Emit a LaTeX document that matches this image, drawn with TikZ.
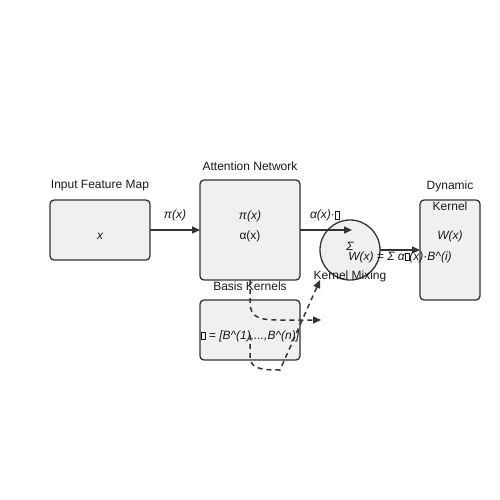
\documentclass[tikz,border=0pt]{standalone}
\usepackage{fontspec}
\setmainfont{Liberation Sans}
\usetikzlibrary{arrows.meta}
\newcommand{\tofu}{{\setlength{\fboxsep}{0pt}\setlength{\fboxrule}{0.4pt}\fbox{\rule{0pt}{7pt}\hspace{4pt}}}}
\begin{document}
\begin{tikzpicture}[x=1pt,y=-1pt,
  box/.style={draw=black!80,fill=black!6,line width=1.3pt,rounded corners=4pt},
  lbl/.style={font=\fontsize{12}{14}\selectfont,text=black!90,inner sep=0pt},
  conn/.style={draw=black!80,line width=1.5pt,-{Triangle[length=8pt,width=7pt]}},
  dconn/.style={conn,dashed,dash pattern=on 5pt off 4pt}]
\useasboundingbox (0,0) rectangle (500,500);
\draw[box] (50,200) rectangle (150,260);
\coordinate (inW) at (150,230);
\draw[box] (200,180) rectangle (300,280);
\coordinate (attW) at (200,230);
\coordinate (attE) at (300,230);
\coordinate (attS) at (250,280);
\draw[box] (420,200) rectangle (480,300);
\coordinate (dynW) at (420,250);
\draw[box] (200,300) rectangle (300,360);
\coordinate (basC) at (250,335);
\draw[box] (350,250) circle (30);
\coordinate (mixIn) at (352,230);
\coordinate (mixE) at (380,250);
\coordinate (mixS) at (321,320);
\coordinate (mixT) at (320,280);

\node[lbl] (inL) at (100,186) {Input Feature Map};
\node[lbl] (inT) at (100,236) {\itshape x};
\node[lbl] (attL) at (250,166) {Attention Network};
\node[lbl] (attT1) at (250,216) {\itshape π(x)};
\node[lbl] (attT2) at (250,236) {α(x)};
\node[lbl] (dynL1) at (450,186) {Dynamic};
\node[lbl] (dynL2) at (450,206) {Kernel};
\node[lbl] (dynT) at (450,236) {\itshape W(x)};
\node[lbl] (basL) at (250,286) {Basis Kernels};
\node[lbl] (basT) at (250,336) {\itshape \tofu\ = [B\^{}(1),...,B\^{}(n)]};
\node[lbl] (sig) at (350,246) {\itshape Σ};
\node[lbl] (mixL) at (350,276) {Kernel Mixing};

\draw[conn] (inW) -- (attW) node[lbl,midway,above=8pt] (e1) {\itshape π(x)};
\draw[conn] (attE) -- (mixIn) node[lbl,pos=0.48,above=8pt] (e2) {\itshape α(x)·\tofu};
\draw[conn] (mixE) -- (dynW) node[lbl,midway,below=1pt] (e3) {\itshape W(x) = Σ α\tofu(x)·B\^{}(i)};
\draw[dconn] (attS) -- (250,302) .. controls (250,318) and (260,320) .. (280,320) -- (mixS);
\draw[dconn] (basC) -- (250,355) .. controls (250,368) and (258,370) .. (280,370) -- (mixT);
\end{tikzpicture}
\end{document}
